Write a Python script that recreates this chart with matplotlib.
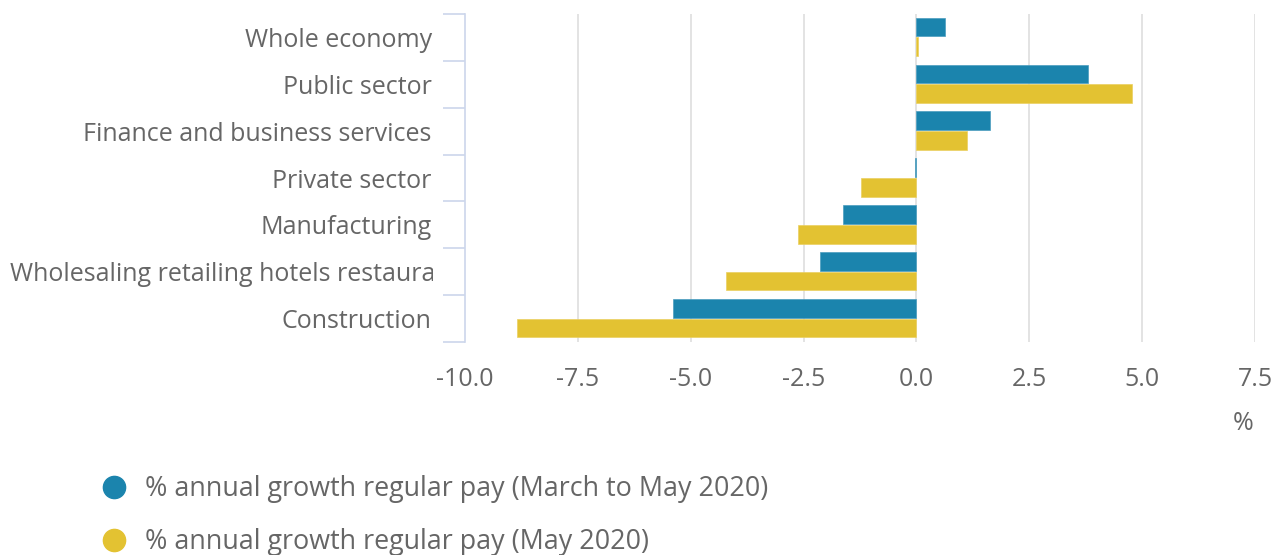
import matplotlib.pyplot as plt
import numpy as np
from matplotlib.lines import Line2D
from matplotlib.transforms import Bbox, blended_transform_factory

plt.rcParams['font.family'] = ['Open Sans', 'DejaVu Sans']

sectors = ["Whole economy", "Public sector", "Finance and business services",
           "Private sector", "Manufacturing",
           "Wholesaling retailing hotels restaurants", "Construction"]
growth_mar_may = [0.64, 3.8, 1.64, -0.03, -1.62, -2.13, -5.39]
growth_may = [0.03, 4.77, 1.13, -1.22, -2.62, -4.21, -8.85]
series_names = ["% annual growth regular pay (March to May 2020)",
                "% annual growth regular pay (May 2020)"]
xticks = [-10.0, -7.5, -5.0, -2.5, 0.0, 2.5, 5.0, 7.5]

c_blue = '#1b84ad'
c_yellow = '#e3c232'
c_text = '#666666'
c_axis = '#ccd6eb'
fs = 18

fig = plt.figure(figsize=(12.79, 5.55), dpi=100)
ax = fig.add_axes([465 / 1279, 1 - 342 / 555, (1255 - 465) / 1279, (342 - 14) / 555])

y = np.arange(len(sectors))
h = 0.4
ax.barh(y - 0.22, growth_mar_may, height=h, color=c_blue, edgecolor='#4a9dbf', linewidth=0.5, zorder=3)
ax.barh(y + 0.2, growth_may, height=h, color=c_yellow, edgecolor='#ebd060', linewidth=0.5, zorder=3)

ax.set_xlim(-10, 7.5)
ax.set_ylim(len(sectors) - 0.5, -0.5)
ax.set_xticks(xticks)
ax.set_xticklabels([f"{t:.1f}" for t in xticks], color=c_text, fontsize=fs)
ax.tick_params(axis='x', length=0, pad=18)
for t in xticks[1:]:
    ax.axvline(t, color='#e3e3e3', linewidth=1.4, zorder=1)

# labels that are too wide start at the left edge and get cut off, as in the original
short_labels = [s if len(s) < 35 else "" for s in sectors]
ax.set_yticks(y)
ax.set_yticklabels(short_labels, color=c_text, fontsize=fs)
ax.tick_params(axis='y', length=0, pad=24)
ax.set_yticks(np.arange(len(sectors) + 1) - 0.5, minor=True)
ax.tick_params(axis='y', which='minor', length=16, color=c_axis, width=1.2)

trans = blended_transform_factory(fig.transFigure, ax.transData)
clip = Bbox.from_extents(0, 0, 433, 555)
for i, s in enumerate(sectors):
    if short_labels[i] == "":
        lab = ax.text(10 / 1279, i, s, transform=trans, ha='left', va='center_baseline',
                      color=c_text, fontsize=fs)
        lab.set_clip_box(clip)
        lab.set_clip_on(True)

for s in ['top', 'right', 'bottom']:
    ax.spines[s].set_visible(False)
ax.spines['left'].set_color(c_axis)
ax.spines['left'].set_linewidth(1.2)

fig.text(1254 / 1279, 1 - 424 / 555, "%", ha='right', va='center', color=c_text, fontsize=fs)

handles = [Line2D([], [], marker='o', linestyle='', markersize=16, color=c_blue),
           Line2D([], [], marker='o', linestyle='', markersize=16, color=c_yellow)]
leg = fig.legend(handles, series_names, loc='upper left', bbox_to_anchor=(80 / 1279, 1 - 462 / 555),
                 frameon=False, fontsize=19.4, labelspacing=0.92, handletextpad=0.4,
                 handlelength=1.5, labelcolor=c_text, borderpad=0)

fig.savefig("out.png", dpi=100)
